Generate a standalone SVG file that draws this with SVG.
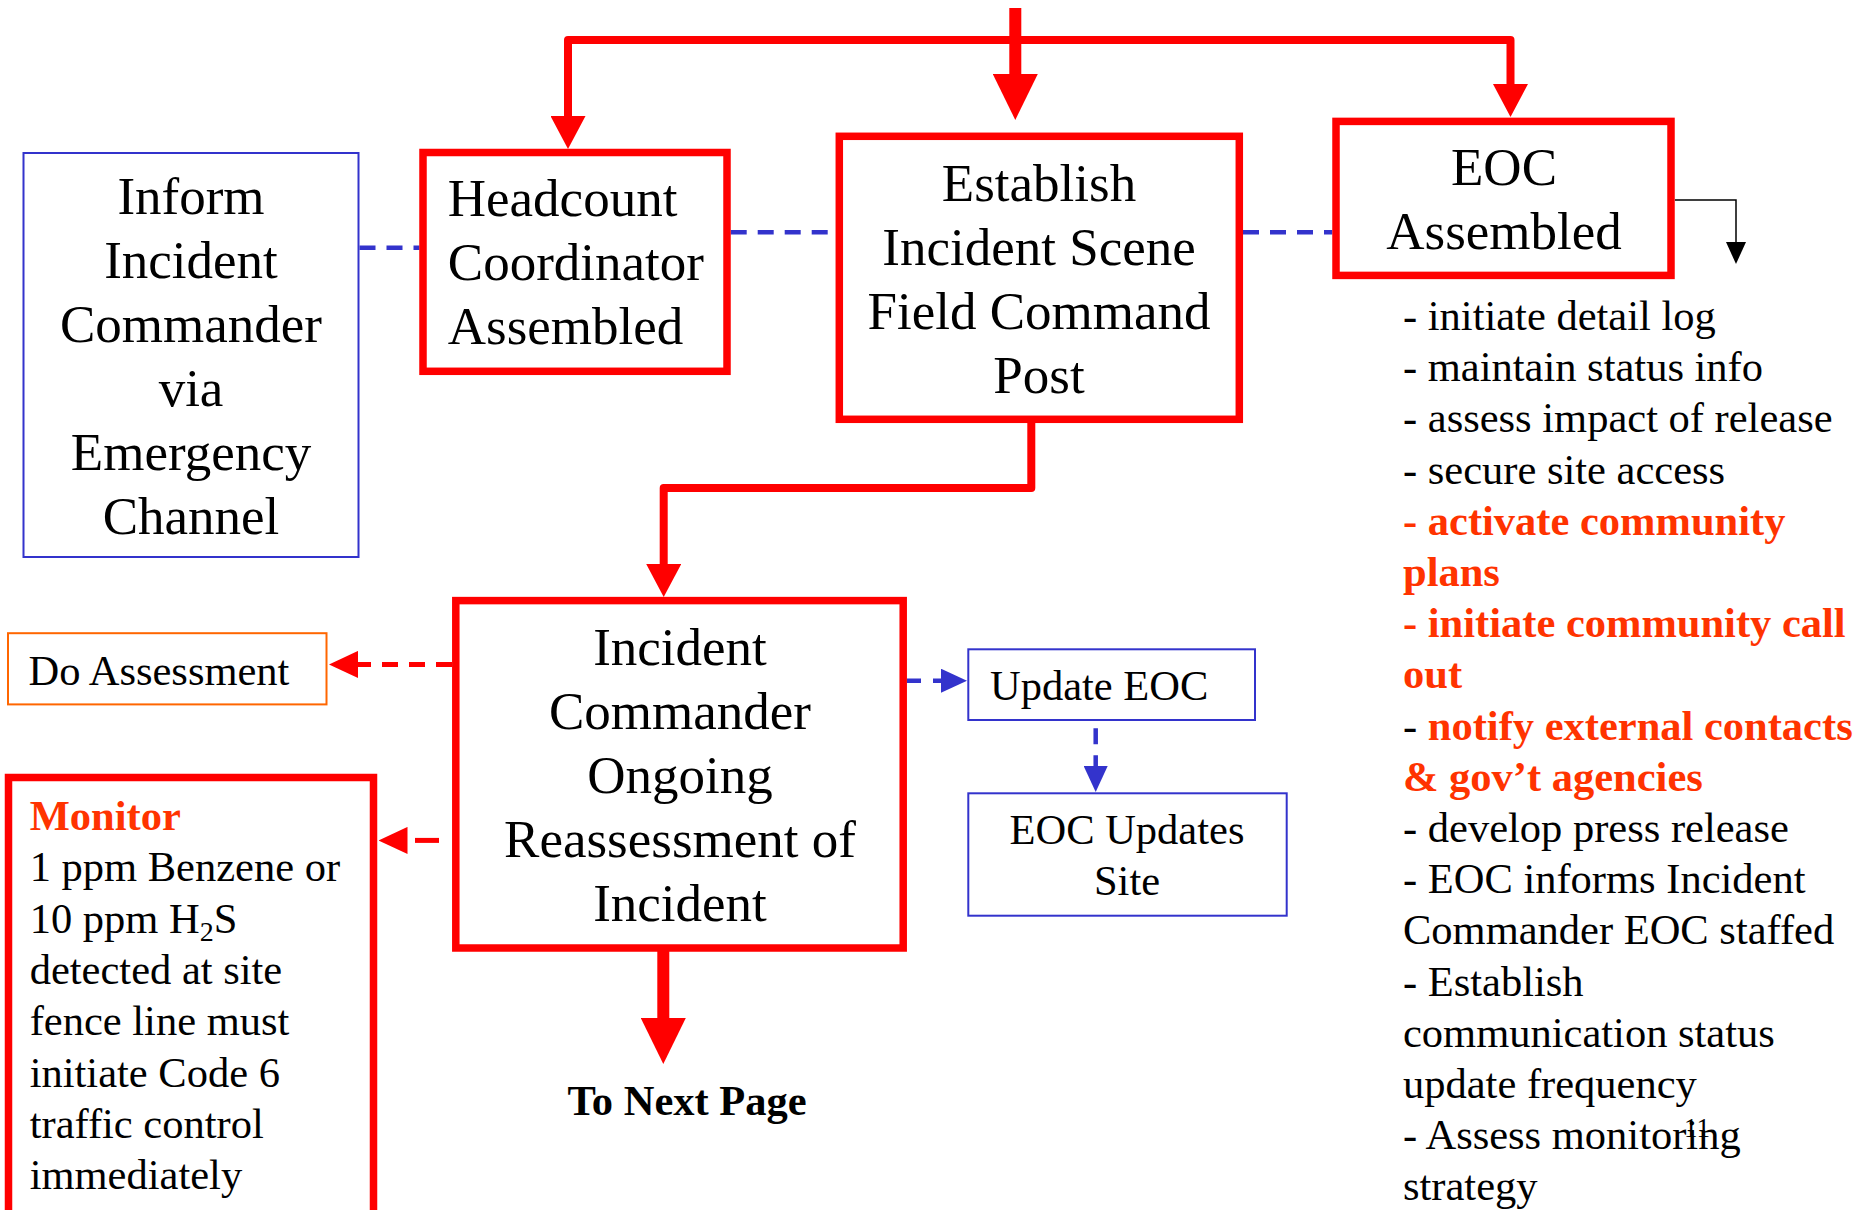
<svg xmlns="http://www.w3.org/2000/svg" width="1861" height="1210" viewBox="0 0 1861 1210">
<style>
.bg{fill:#ffffff}
.thick{fill:#ffffff;stroke:#FF0000;stroke-width:7.5}
.thin{fill:#ffffff;stroke:#3333CC;stroke-width:2}
.orange{fill:#ffffff;stroke:#FF6600;stroke-width:2}
.big{font-family:"Liberation Serif","Times New Roman",serif;font-size:53px;fill:#000000}
.mid{font-family:"Liberation Serif","Times New Roman",serif;font-size:42.5px;fill:#000000}
.bold{font-weight:bold}
.hot{fill:#FF3300;font-weight:bold}
.c{text-anchor:middle}
.red{fill:none;stroke:#FF0000;stroke-width:8;stroke-linejoin:round}
.redw{fill:none;stroke:#FF0000;stroke-width:12}
.reddash{fill:none;stroke:#FF0000;stroke-width:5;stroke-dasharray:16 11}
.bluedash{fill:none;stroke:#3333CC;stroke-width:4.5;stroke-dasharray:16 11}
.blk{fill:none;stroke:#000000;stroke-width:1.5}
</style>
<defs>
<marker id="ahR" markerUnits="userSpaceOnUse" viewBox="0 0 33 35" refX="1" refY="17.5" markerWidth="33" markerHeight="35" orient="auto"><path d="M0,0 L33,17.5 L0,35 z" fill="#FF0000"/></marker>
<marker id="ahRB" markerUnits="userSpaceOnUse" viewBox="0 0 46 45" refX="1" refY="22.5" markerWidth="46" markerHeight="45" orient="auto"><path d="M0,0 L46,22.5 L0,45 z" fill="#FF0000"/></marker>
<marker id="ahRD" markerUnits="userSpaceOnUse" viewBox="0 0 29 27" refX="1" refY="13.5" markerWidth="29" markerHeight="27" orient="auto"><path d="M0,0 L29,13.5 L0,27 z" fill="#FF0000"/></marker>
<marker id="ahB" markerUnits="userSpaceOnUse" viewBox="0 0 26 24" refX="1" refY="12" markerWidth="26" markerHeight="24" orient="auto"><path d="M0,0 L26,12 L0,24 z" fill="#3333CC"/></marker>
<marker id="ahK" markerUnits="userSpaceOnUse" viewBox="0 0 22 20" refX="1" refY="10" markerWidth="22" markerHeight="20" orient="auto"><path d="M0,0 L22,10 L0,20 z" fill="#000000"/></marker>
</defs>
<rect class="bg" x="0" y="0" width="1861" height="1210"/>

<g id="connectors">
<path class="red" d="M1015,40 L568,40 L568,117" marker-end="url(#ahR)"/>
<path class="red" d="M1015,40 L1510.5,40 L1510.5,85" marker-end="url(#ahR)"/>
<path class="redw" d="M1015.3,8 L1015.3,75" marker-end="url(#ahRB)"/>
<path class="red" d="M1031.3,420 L1031.3,488 L663.7,488 L663.7,565" marker-end="url(#ahR)"/>
<path class="redw" d="M663.3,950 L663.3,1019" marker-end="url(#ahRB)"/>
<path class="bluedash" d="M359.5,247.8 L419.5,247.8"/>
<path class="bluedash" d="M730.7,232.3 L835.5,232.3"/>
<path class="bluedash" d="M1243,232.3 L1332.3,232.3"/>
<path class="bluedash" style="stroke-dasharray:14 12" d="M907,680.7 L942,680.7" marker-end="url(#ahB)"/>
<path class="bluedash" d="M1095.7,728.3 L1095.7,767" marker-end="url(#ahB)"/>
<path class="reddash" d="M452,664.4 L357,664.4" marker-end="url(#ahRD)"/>
<path class="reddash" style="stroke-dasharray:24 12" d="M439,840.4 L406.5,840.4" marker-end="url(#ahRD)"/>
<path class="blk" d="M1674.9,200 L1736,200 L1736,243" marker-end="url(#ahK)"/>
</g>

<g id="inform">
<rect class="thin" x="23.5" y="153" width="335" height="404"/>
<text class="big c" x="191" y="213.8">Inform</text>
<text class="big c" x="191" y="277.9">Incident</text>
<text class="big c" x="191" y="342">Commander</text>
<text class="big c" x="191" y="406.1">via</text>
<text class="big c" x="191" y="470.2">Emergency</text>
<text class="big c" x="191" y="534.3">Channel</text>
</g>

<g id="headcount">
<rect class="thick" x="423" y="152.5" width="304" height="218.8"/>
<text class="big" x="447.8" y="216">Headcount</text>
<text class="big" x="447.8" y="280">Coordinator</text>
<text class="big" x="447.8" y="344">Assembled</text>
</g>

<g id="establish">
<rect class="thick" x="839.3" y="136.3" width="400" height="283"/>
<text class="big c" x="1039" y="200.5">Establish</text>
<text class="big c" x="1039" y="264.5">Incident Scene</text>
<text class="big c" x="1039" y="328.5">Field Command</text>
<text class="big c" x="1039" y="392.5">Post</text>
</g>

<g id="eoc">
<rect class="thick" x="1336" y="121.4" width="335" height="154"/>
<text class="big c" x="1504" y="185">EOC</text>
<text class="big c" x="1504" y="248.6">Assembled</text>
</g>

<g id="eoc-tasks">
<text class="mid" x="1403" y="330">- initiate detail log</text>
<text class="mid" x="1403" y="381.2">- maintain status info</text>
<text class="mid" x="1403" y="432.4">- assess impact of release</text>
<text class="mid" x="1403" y="483.6">- secure site access</text>
<text class="mid hot" x="1403" y="534.8">- activate community</text>
<text class="mid hot" x="1403" y="586">plans</text>
<text class="mid hot" x="1403" y="637.2">- initiate community call</text>
<text class="mid hot" x="1403" y="688.4">out</text>
<text class="mid" x="1403" y="739.6">- <tspan class="hot">notify external contacts</tspan></text>
<text class="mid hot" x="1403" y="790.8">&amp; gov’t agencies</text>
<text class="mid" x="1403" y="842">- develop press release</text>
<text class="mid" x="1403" y="893.2">- EOC informs Incident</text>
<text class="mid" x="1403" y="944.4">Commander EOC staffed</text>
<text class="mid" x="1403" y="995.6">- Establish</text>
<text class="mid" x="1403" y="1046.8">communication status</text>
<text class="mid" x="1403" y="1098">update frequency</text>
<text class="mid" x="1403" y="1149.2">- Assess monitoring</text>
<text class="mid" x="1403" y="1200.4">strategy</text>
<text class="mid" style="font-size:27px" x="1684" y="1137">11</text>
</g>

<g id="incident-commander">
<rect class="thick" x="455.8" y="600.6" width="447.4" height="347.4"/>
<text class="big c" x="680" y="665">Incident</text>
<text class="big c" x="680" y="729">Commander</text>
<text class="big c" x="680" y="793">Ongoing</text>
<text class="big c" x="680" y="857">Reassessment of</text>
<text class="big c" x="680" y="921">Incident</text>
</g>

<g id="do-assessment">
<rect class="orange" x="8" y="633.2" width="318.5" height="71.2"/>
<text class="mid" x="28.5" y="685.3">Do Assessment</text>
</g>

<g id="monitor">
<rect class="thick" x="8.5" y="777.5" width="365" height="500"/>
<text class="mid hot" x="29.7" y="830">Monitor</text>
<text class="mid" x="29.7" y="881.3">1 ppm Benzene or</text>
<text class="mid" x="29.7" y="932.6">10 ppm H<tspan dy="8" style="font-size:28px">2</tspan><tspan dy="-8">S</tspan></text>
<text class="mid" x="29.7" y="983.9">detected at site</text>
<text class="mid" x="29.7" y="1035.2">fence line must</text>
<text class="mid" x="29.7" y="1086.5">initiate Code 6</text>
<text class="mid" x="29.7" y="1137.8">traffic control</text>
<text class="mid" x="29.7" y="1189.1">immediately</text>
</g>

<g id="update-eoc">
<rect class="thin" x="968.3" y="649.3" width="286.7" height="70.7"/>
<text class="mid" x="990" y="700">Update EOC</text>
</g>

<g id="eoc-updates-site">
<rect class="thin" x="968.3" y="793.3" width="318.4" height="122.4"/>
<text class="mid c" x="1127" y="844">EOC Updates</text>
<text class="mid c" x="1127" y="895">Site</text>
</g>

<g id="next-page">
<text class="mid bold c" x="687" y="1114.5">To Next Page</text>
</g>
</svg>
